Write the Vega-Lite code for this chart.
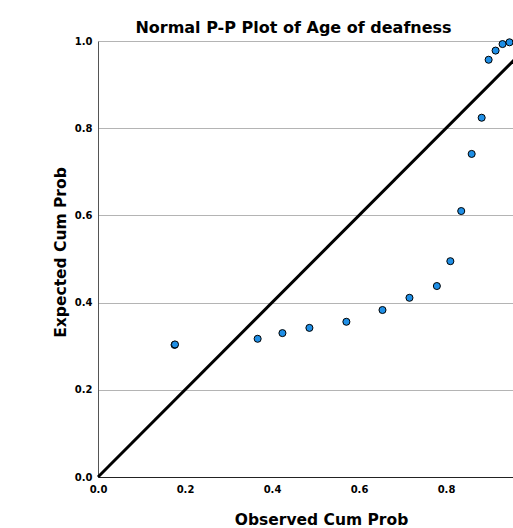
{
  "$schema": "https://vega.github.io/schema/vega-lite/v6.json",
  "autosize": "none",
  "width": 435,
  "height": 436,
  "padding": {"left": 98, "top": 41, "right": 0, "bottom": 51},
  "background": "white",
  "config": {
    "font": "DejaVu Sans",
    "view": {"stroke": null}
  },
  "title": {
    "text": "Normal P-P Plot of Age of deafness",
    "fontSize": 16,
    "fontWeight": "bold",
    "color": "black",
    "dx": -22,
    "offset": -1
  },
  "datasets": {
    "pts": [
      {"observed": 0.176, "expected": 0.303},
      {"observed": 0.177, "expected": 0.304},
      {"observed": 0.367, "expected": 0.317},
      {"observed": 0.424, "expected": 0.330},
      {"observed": 0.486, "expected": 0.342},
      {"observed": 0.571, "expected": 0.356},
      {"observed": 0.654, "expected": 0.383},
      {"observed": 0.716, "expected": 0.411},
      {"observed": 0.779, "expected": 0.438},
      {"observed": 0.810, "expected": 0.495},
      {"observed": 0.835, "expected": 0.610},
      {"observed": 0.859, "expected": 0.741},
      {"observed": 0.882, "expected": 0.824},
      {"observed": 0.898, "expected": 0.957},
      {"observed": 0.914, "expected": 0.978},
      {"observed": 0.930, "expected": 0.993},
      {"observed": 0.946, "expected": 0.997},
      {"observed": 0.962, "expected": 0.999}
    ],
    "diag": [
      {"observed": 0, "expected": 0},
      {"observed": 1, "expected": 1}
    ]
  },
  "layer": [
    {
      "data": {"name": "diag"},
      "mark": {"type": "line", "color": "black", "strokeWidth": 3},
      "encoding": {
        "x": {
          "field": "observed", "type": "quantitative",
          "scale": {"domain": [0, 1], "nice": false, "zero": false},
          "axis": {
            "title": "Observed Cum Prob",
            "titleFontSize": 15.5, "titleFontWeight": "bold", "titleColor": "black",
            "titleX": 223, "titleY": 47, "titleBaseline": "alphabetic",
            "values": [0, 0.2, 0.4, 0.6, 0.8],
            "format": ".1f",
            "labelFontSize": 10, "labelFontWeight": "bold", "labelColor": "black",
            "labelPadding": 7, "labelFlush": false,
            "ticks": false,
            "grid": false,
            "domainColor": "#222222", "domainWidth": 1.2
          }
        },
        "y": {
          "field": "expected", "type": "quantitative",
          "scale": {"domain": [0, 1], "nice": false, "zero": false},
          "axis": {
            "title": "Expected Cum Prob",
            "titleFontSize": 15.5, "titleFontWeight": "bold", "titleColor": "black",
            "titleX": -33, "titleY": 211, "titleBaseline": "alphabetic", "titleAngle": -90, "titleAlign": "center",
            "values": [0, 0.2, 0.4, 0.6, 0.8, 1.0],
            "format": ".1f",
            "labelFontSize": 10, "labelFontWeight": "bold", "labelColor": "black",
            "labelPadding": 6, "labelFlush": false,
            "ticks": false,
            "grid": true, "gridColor": "#b4b4b4", "gridWidth": 1,
            "domainColor": "#555555", "domainWidth": 1
          }
        }
      }
    },
    {
      "data": {"name": "pts"},
      "mark": {"type": "point", "filled": true, "fill": "#1f8fe6", "stroke": "black", "strokeWidth": 1, "size": 50, "opacity": 1},
      "encoding": {
        "x": {"field": "observed", "type": "quantitative"},
        "y": {"field": "expected", "type": "quantitative"}
      }
    }
  ]
}
